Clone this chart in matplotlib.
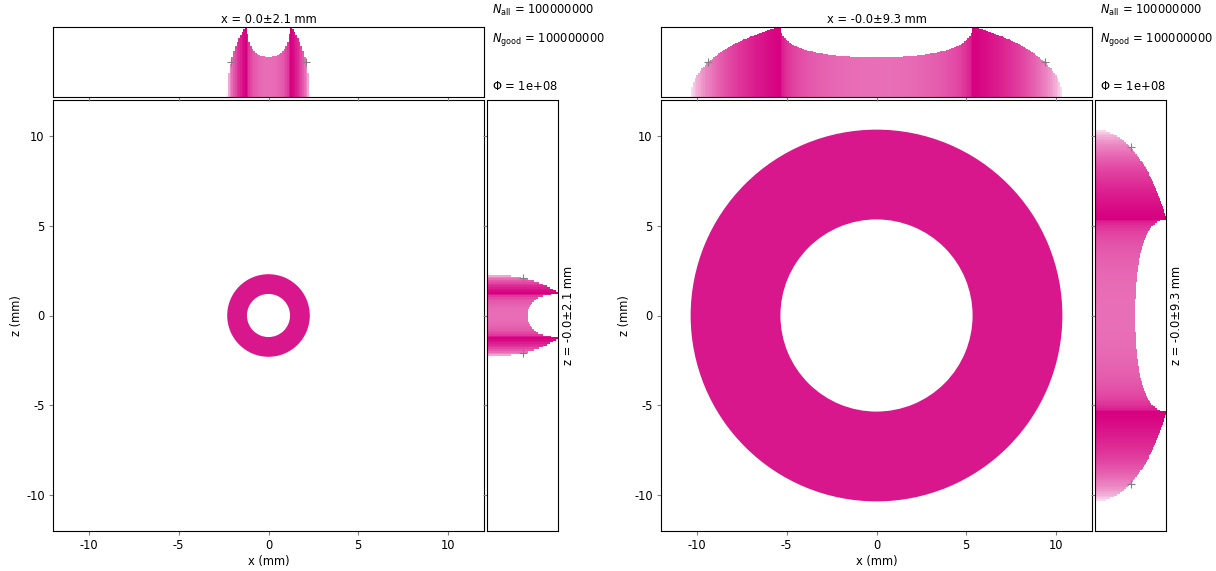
import numpy as np
import matplotlib
matplotlib.use('Agg')
import matplotlib.pyplot as plt
from matplotlib.patches import Wedge

# ring geometry of the two beam footprints (mm)
inner_radii = [1.2, 5.35]
outer_radii = [2.3, 10.35]
x_labels = ['x = 0.0±2.1 mm', 'x = -0.0±9.3 mm']
z_labels = ['z = -0.0±2.1 mm', 'z = -0.0±9.3 mm']
n_all = '100000000'
n_good = '100000000'
flux = '1e+08'
limits = (-12, 12)
ticks = [-10, -5, 0, 5, 10]
nbins = 256

W, H = 1216, 571
hist_color = np.array([0.84, 0.0, 0.50])
ring_color = (0.85, 0.09, 0.55)
fs = 8.3

plt.rcParams['axes.unicode_minus'] = False
plt.rcParams['font.size'] = fs


def box(x0, y0, x1, y1):
    # pixel box -> figure fraction rect
    return [x0 / W, 1 - y1 / H, (x1 - x0) / W, (y1 - y0) / H]


def projection(c, r1, r2):
    return np.sqrt(np.clip(r2**2 - c**2, 0, None)) - np.sqrt(np.clip(r1**2 - c**2, 0, None))


def bar_colors(h):
    t = (h / h.max())[:, None]
    return (1 - t) * np.ones(3) + t * hist_color


fig = plt.figure(figsize=(W / 100, H / 100), dpi=100)

edges = np.linspace(limits[0], limits[1], nbins + 1)
centers = 0.5 * (edges[:-1] + edges[1:])
bw = edges[1] - edges[0]

offsets = [0, 608]
for i in range(2):
    dx = offsets[i]
    r1, r2 = inner_radii[i], outer_radii[i]

    ax = fig.add_axes(box(53 + dx, 100, 484 + dx, 531))
    ax_top = fig.add_axes(box(53 + dx, 27, 484 + dx, 97))
    ax_side = fig.add_axes(box(487 + dx, 100, 558 + dx, 531))

    ax.add_patch(Wedge((0, 0), r2, 0, 360, width=r2 - r1, color=ring_color, lw=0))
    ax.set_xlim(limits)
    ax.set_ylim(limits)
    ax.set_xticks(ticks)
    ax.set_yticks(ticks)
    ax.set_xlabel('x (mm)', labelpad=2)
    ax.set_ylabel('z (mm)', labelpad=2)
    ax.tick_params(direction='out', length=3, color='gray', labelsize=fs, pad=3)

    h = projection(centers, r1, r2)
    hmax = h.max()
    half = np.sqrt(r2**2 - (hmax / 2)**2)

    ax_top.bar(centers, h, width=bw, color=bar_colors(h), linewidth=0)
    ax_top.plot([-half, half], [hmax / 2, hmax / 2], '+', color='gray', ms=6, mew=0.8)
    ax_top.set_xlim(limits)
    ax_top.set_ylim(0, hmax)
    ax_top.set_xticks(ticks)
    ax_top.set_yticks([])
    ax_top.tick_params(axis='x', direction='out', length=3, color='gray', labelbottom=False)
    ax_top.set_title(x_labels[i], fontsize=fs, pad=3)

    ax_side.barh(centers, h, height=bw, color=bar_colors(h), linewidth=0)
    ax_side.plot([hmax / 2, hmax / 2], [-half, half], '+', color='gray', ms=6, mew=0.8)
    ax_side.set_ylim(limits)
    ax_side.set_xlim(0, hmax)
    ax_side.set_yticks(ticks)
    ax_side.set_xticks([])
    ax_side.tick_params(axis='y', direction='out', length=3, color='gray', labelleft=False)
    ax_side.text(1.05, 0.5, z_labels[i], rotation=90, transform=ax_side.transAxes,
                 ha='left', va='center', fontsize=fs)

    tx = (492 + dx) / W
    fig.text(tx, 1 - 10 / H, r'$N_{\rm all}$ = ' + n_all, va='center', fontsize=fs)
    fig.text(tx, 1 - 40 / H, r'$N_{\rm good}$ = ' + n_good, va='center', fontsize=fs)
    fig.text(tx, 1 - 87 / H, r'$\Phi$ = ' + flux, va='center', fontsize=fs)

fig.savefig('out.png', dpi=100)
